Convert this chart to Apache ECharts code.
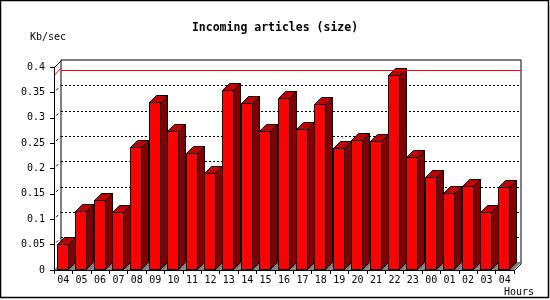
<!DOCTYPE html>
<html>
<head>
<meta charset="utf-8">
<script src="https://cdn.jsdelivr.net/npm/echarts@6/dist/echarts.min.js"></script>
<style>
  html, body { margin: 0; padding: 0; background: #fff; }
  #chart { width: 550px; height: 300px; }
</style>
</head>
<body>
<div id="chart"></div>
<script>
// hours of the day, last 24h
const hours = ['04', '05', '06', '07', '08', '09', '10', '11', '12', '13', '14', '15', '16',
  '17', '18', '19', '20', '21', '22', '23', '00', '01', '02', '03', '04']
// Kb/sec
const sizes = [0.051, 0.116, 0.137, 0.114, 0.242, 0.332, 0.273, 0.230, 0.192, 0.355, 0.330, 0.273, 0.339,
  0.277, 0.327, 0.240, 0.256, 0.254, 0.384, 0.222, 0.183, 0.151, 0.165, 0.114, 0.163]
const yTicks = [0, 0.05, 0.1, 0.15, 0.2, 0.25, 0.3, 0.35, 0.4]

const FONT = '"DejaVu Sans Mono", "Liberation Mono", monospace'
const D = 7 // 3d depth in px
const W = 550, H = 300
const front = { left: 54, right: 36, top: 67, bottom: 30 }
const back = { left: front.left + D, right: front.right - D, top: front.top - D, bottom: front.bottom + D }
const peak = Math.max(...sizes)

const chart = echarts.init(document.getElementById('chart'), null, { renderer: 'canvas' })

const px = v => Math.round(v) + 0.5

function renderBar(params, api) {
  const i = api.value(0)
  const base = api.coord([i, 0])
  const top = api.coord([i, api.value(1)])
  const cw = api.size([1, 0])[0]
  const x0 = base[0] - cw / 2
  const l = px(x0 + cw * 0.15)
  const r = px(x0 + cw * 0.15 + cw * 0.6)
  const y0 = px(base[1]) - 1
  const y1 = px(top[1])
  const edge = { stroke: '#000', lineWidth: 1 }
  return {
    type: 'group',
    children: [
      {
        type: 'polygon',
        shape: { points: [[x0, y0 + 0.5], [x0 + cw, y0 + 0.5], [x0 + cw + D, y0 - D], [x0 + D, y0 - D]] },
        style: { fill: '#808080' }
      },
      {
        type: 'polygon',
        shape: { points: [[r, y0], [r, y1], [r + D, y1 - D], [r + D, y0 - D]] },
        style: Object.assign({ fill: '#800000' }, edge)
      },
      {
        type: 'polygon',
        shape: { points: [[l, y1], [r, y1], [r + D, y1 - D], [l + D, y1 - D]] },
        style: Object.assign({ fill: '#c00000' }, edge)
      },
      {
        type: 'rect',
        shape: { x: l, y: y1, width: r - l, height: y0 - y1 },
        style: Object.assign({ fill: '#ff0000' }, edge)
      }
    ]
  }
}

chart.setOption({
  animation: false,
  backgroundColor: '#fff',
  title: {
    text: 'Incoming articles (size)',
    left: 'center',
    top: 17,
    textStyle: { fontFamily: FONT, fontSize: 11.5, fontWeight: 'bold', color: '#000' }
  },
  grid: [
    Object.assign({ show: false }, front),
    Object.assign({ show: true, borderColor: '#000', borderWidth: 1, backgroundColor: '#fff' }, back)
  ],
  xAxis: [
    {
      gridIndex: 0,
      type: 'category',
      data: hours,
      z: 10,
      axisLine: { lineStyle: { color: '#000', width: 1 } },
      axisTick: { show: true, length: 4, interval: 0, lineStyle: { color: '#000' } },
      axisLabel: { interval: 0, margin: 5, color: '#000', fontFamily: FONT, fontSize: 10 },
      splitLine: { show: false }
    },
    {
      gridIndex: 1,
      type: 'category',
      data: hours,
      show: false
    }
  ],
  yAxis: [
    {
      gridIndex: 0,
      type: 'value',
      min: 0,
      max: 0.4,
      interval: 0.05,
      z: 10,
      axisLine: { show: true, lineStyle: { color: '#000', width: 1 } },
      axisTick: { show: true, length: 4, lineStyle: { color: '#000' } },
      axisLabel: { margin: 9, color: '#000', fontFamily: FONT, fontSize: 10 },
      splitLine: { show: false }
    },
    {
      gridIndex: 1,
      type: 'value',
      min: 0,
      max: 0.4,
      interval: 0.05,
      axisLine: { show: false },
      axisTick: { show: false },
      axisLabel: { show: false },
      splitLine: {
        show: true,
        showMinLine: false,
        showMaxLine: false,
        lineStyle: { color: '#000', width: 1, type: [2, 2] }
      }
    }
  ],
  series: [
    {
      // peak line on the back wall
      type: 'line',
      xAxisIndex: 1,
      yAxisIndex: 1,
      data: [],
      z: 1,
      markLine: {
        silent: true,
        symbol: 'none',
        label: { show: false },
        lineStyle: { color: '#ff0000', width: 1, type: 'solid' },
        data: [{ yAxis: peak }]
      }
    },
    {
      type: 'custom',
      xAxisIndex: 0,
      yAxisIndex: 0,
      z: 3,
      renderItem: renderBar,
      data: sizes.map((v, i) => [i, v])
    }
  ]
})

// side walls, outer frame and axis names
const fx = front.left, rx = W - front.right, by = H - front.bottom
const wall = []
yTicks.slice(1, -1).forEach(v => {
  const y = chart.convertToPixel({ yAxisIndex: 0 }, v)
  wall.push({
    type: 'line',
    shape: { x1: fx, y1: y, x2: fx + D, y2: y - D },
    style: { stroke: '#000', lineWidth: 1, lineDash: [3, 3], lineDashOffset: -3 }
  })
})
const yp = chart.convertToPixel({ yAxisIndex: 0 }, peak)
wall.push({ type: 'line', shape: { x1: fx + 0.5, y1: yp, x2: fx + D, y2: yp - D }, style: { stroke: '#ff0000', lineWidth: 1 } })
wall.push({ type: 'line', shape: { x1: fx + 0.5, y1: front.top + 0.5, x2: fx + D + 0.5, y2: front.top - D + 0.5 }, style: { stroke: '#000', lineWidth: 1 } })
wall.push({ type: 'line', shape: { x1: rx + 0.5, y1: by + 0.5, x2: rx + D + 0.5, y2: by - D + 0.5 }, style: { stroke: '#000', lineWidth: 1 }, z: 20 })

chart.setOption({
  graphic: wall.concat([
    {
      type: 'rect',
      shape: { x: 0.5, y: 0.5, width: 548, height: 297 },
      style: { fill: 'none', stroke: '#000', lineWidth: 1.5 },
      z: 20
    },
    {
      type: 'text',
      x: 30,
      y: 37,
      style: { text: 'Kb/sec', font: '10px ' + FONT, fill: '#000', verticalAlign: 'middle' }
    },
    {
      type: 'text',
      x: 504,
      y: 292,
      style: { text: 'Hours', font: '10px ' + FONT, fill: '#000', verticalAlign: 'middle' }
    }
  ])
})
</script>
</body>
</html>
